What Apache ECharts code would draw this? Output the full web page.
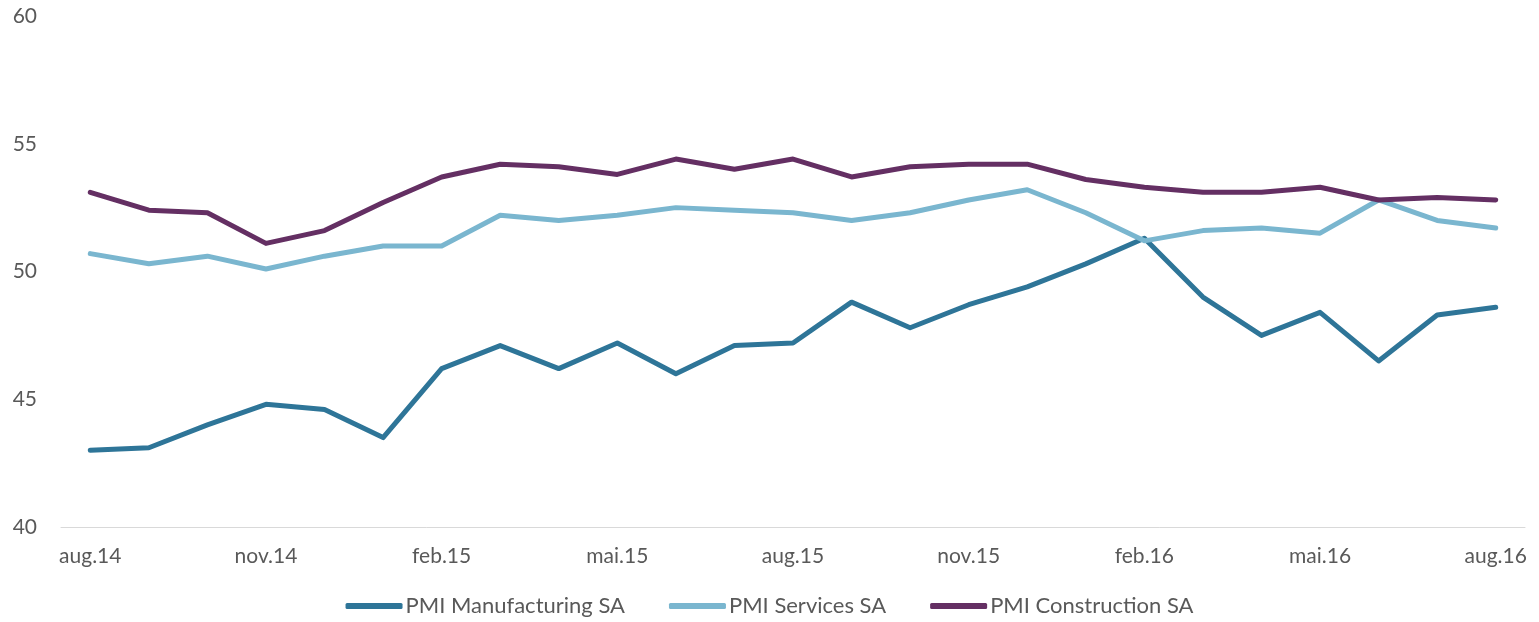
<!DOCTYPE html>
<html>
<head>
<meta charset="utf-8">
<script src="https://cdn.jsdelivr.net/npm/echarts@6/dist/echarts.min.js"></script>
<style>html,body{margin:0;padding:0;background:#fff}#c{width:1539px;height:622px}</style>
</head>
<body>
<div id="c"></div>
<script>
const categories = ['aug.14','sep.14','okt.14','nov.14','des.14','jan.15','feb.15','mar.15','apr.15','mai.15','jun.15','jul.15','aug.15','sep.15','okt.15','nov.15','des.15','jan.16','feb.16','mar.16','apr.16','mai.16','jun.16','jul.16','aug.16'];
const manufacturing = [43.0,43.1,44.0,44.8,44.6,43.5,46.2,47.1,46.2,47.2,46.0,47.1,47.2,48.8,47.8,48.7,49.4,50.3,51.3,49.0,47.5,48.4,46.5,48.3,48.6];
const services = [50.7,50.3,50.6,50.1,50.6,51.0,51.0,52.2,52.0,52.2,52.5,52.4,52.3,52.0,52.3,52.8,53.2,52.3,51.2,51.6,51.7,51.5,52.8,52.0,51.7];
const construction = [53.1,52.4,52.3,51.1,51.6,52.7,53.7,54.2,54.1,53.8,54.4,54.0,54.4,53.7,54.1,54.2,54.2,53.6,53.3,53.1,53.1,53.3,52.8,52.9,52.8];
const seriesNames = ['PMI Manufacturing SA','PMI Services SA','PMI Construction SA'];
const colors = ['#2E7598','#7AB6CF','#642F63'];
const font = 'Lato, "Open Sans", sans-serif';
const chart = echarts.init(document.getElementById('c'));
const mk = (name, data, color) => ({
  name, type: 'line', data, symbol: 'none', smooth: false,
  lineStyle: {width: 5, color, cap: 'round', join: 'round'}, itemStyle: {color}
});
chart.setOption({
  animation: false,
  color: colors,
  grid: {left: 61, right: 14, top: 16, bottom: 95, containLabel: false},
  legend: {
    bottom: 0, left: 'center', itemWidth: 57, itemHeight: 6, itemGap: 44,
    icon: 'roundRect',
    textStyle: {color: '#595959', fontSize: 22, fontFamily: font, padding: [2, 0, 0, -2]},
    data: seriesNames
  },
  xAxis: {
    type: 'category', data: categories, boundaryGap: true,
    axisLine: {lineStyle: {color: '#d9d9d9', width: 1}},
    axisTick: {interval: 2, length: 6, lineStyle: {color: '#d9d9d9'}},
    axisLabel: {interval: 2, color: '#595959', fontSize: 21, fontFamily: font, margin: 19}
  },
  yAxis: {
    type: 'value', min: 40, max: 60, interval: 5,
    axisLine: {show: false}, axisTick: {show: false}, splitLine: {show: false},
    axisLabel: {color: '#595959', fontSize: 21, fontFamily: font, margin: 24}
  },
  series: [
    mk(seriesNames[0], manufacturing, colors[0]),
    mk(seriesNames[1], services, colors[1]),
    mk(seriesNames[2], construction, colors[2])
  ]
});
</script>
</body>
</html>
